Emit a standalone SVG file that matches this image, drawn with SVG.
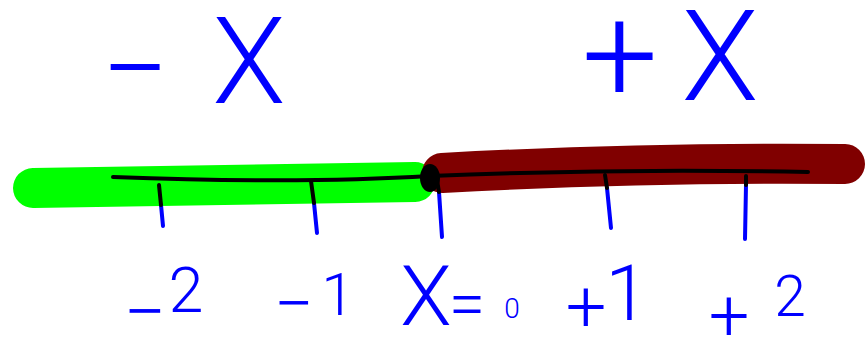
<svg xmlns="http://www.w3.org/2000/svg" width="866" height="344" viewBox="0 0 866 344">
<style>
.lbl{fill:#0000FF;font-family:"Roboto","Liberation Sans",sans-serif;font-weight:300;text-anchor:middle}
.bar{fill:none;stroke-linecap:round;stroke-width:40}
.tk{fill:none;stroke-linecap:round;stroke-width:4}
.tb{stroke:#0000FF}
.tk.k{stroke:#000000}
</style>
<rect width="866" height="344" fill="#FFFFFF"/>
<g id="axis">
<path class="bar" d="M33,188 L415,182" stroke="#00FF00"/>
<path class="bar" d="M442,173 Q640,162 845,164" stroke="#800000"/>
<path d="M113,177 Q300,184 430,176 Q620,168 808,172" fill="none" stroke="#000000" stroke-width="4" stroke-linecap="round"/>
<ellipse cx="430" cy="178" rx="10" ry="14" fill="#000000"/>
</g>
<g id="ticks">
<path class="tk tb" d="M161,205 L163,226"/>
<path class="tk k" d="M159,185 L161,205"/>
<path class="tk tb" d="M314,203 L317,233"/>
<path class="tk k" d="M311,181 L314,203"/>
<path class="tk tb" d="M439,192 L442,237"/>
<path class="tk k" d="M437,180 L439,192"/>
<path class="tk tb" d="M607,188 L611,228"/>
<path class="tk k" d="M605,175 L607,188"/>
<path class="tk tb" d="M746,185 L745,239"/>
<path class="tk k" d="M746,176 L746,185"/>
</g>
<g id="label-neg-x">
<text class="lbl" font-size="120"><tspan x="135" y="110">−</tspan><tspan x="249" y="103">X</tspan></text>
</g>
<g id="label-pos-x">
<text class="lbl" font-size="135"><tspan x="620" y="102">+</tspan><tspan x="720" y="100" font-size="126">X</tspan></text>
</g>
<g id="label-m2">
<text class="lbl" font-size="63"><tspan x="145" y="338" font-size="75">−</tspan><tspan x="186" y="312">2</tspan></text>
</g>
<g id="label-m1">
<text class="lbl" font-size="60"><tspan x="294" y="328" font-size="70">−</tspan><tspan x="338" y="315">1</tspan></text>
</g>
<g id="label-x0">
<text class="lbl" font-size="84"><tspan x="426" y="325">X</tspan><tspan x="467" y="327" font-size="66">=</tspan><tspan x="512" y="318" font-size="28">0</tspan></text>
</g>
<g id="label-p1">
<text class="lbl" font-size="72"><tspan x="586" y="331">+</tspan><tspan x="627" y="320" font-size="78">1</tspan></text>
</g>
<g id="label-p2">
<text class="lbl" font-size="72"><tspan x="729" y="340">+</tspan><tspan x="790" y="316" font-size="57">2</tspan></text>
</g>
</svg>
